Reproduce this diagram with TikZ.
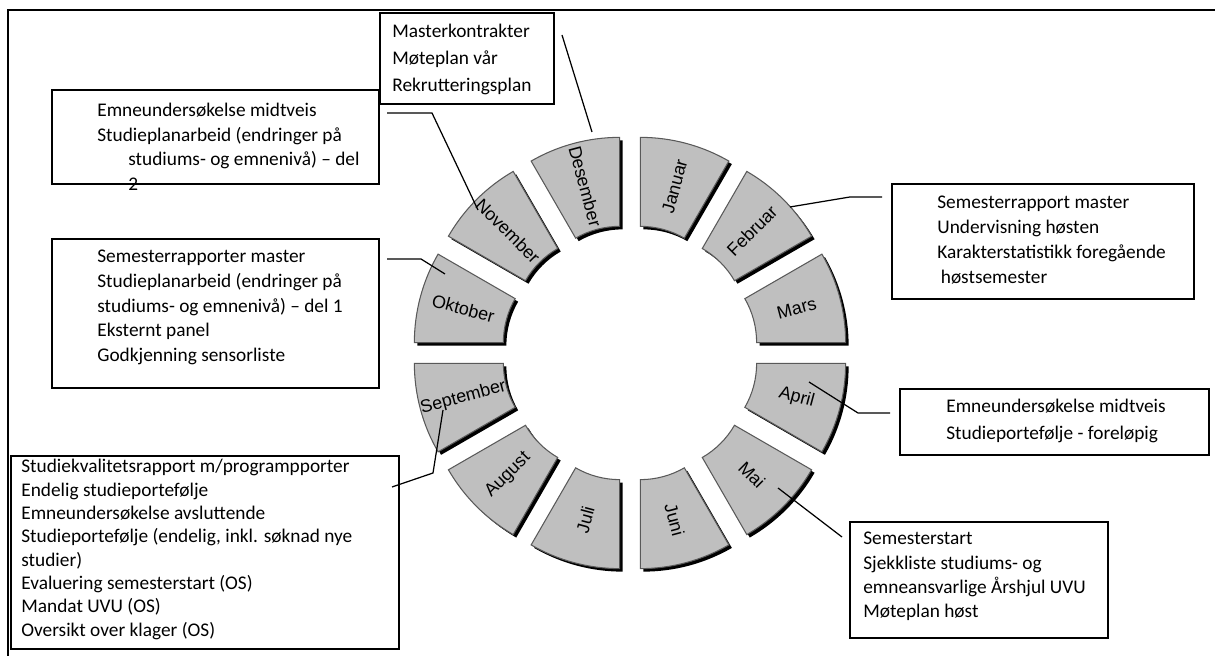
\documentclass[tikz,border=0pt]{standalone}
\usepackage{fontspec}
\setmainfont{Carlito}
\newfontfamily\monthfont{Liberation Sans}
\usetikzlibrary{calc}
\tikzset{
  box/.style={draw, line width=0.9pt, inner sep=0pt, anchor=north west},
  boxtext/.style={inner sep=0pt, anchor=north west, align=left},
  seg/.style={fill=black!25, draw=black!65, line width=0.6pt},
  segshadow/.style={fill=black},
  month/.style={font=\monthfont\fontsize{10.2}{12}\selectfont, inner sep=0pt},
  link/.style={line width=0.7pt}
}
\begin{document}
\begin{tikzpicture}[x=0.02cm, y=0.02cm]
\useasboundingbox (0,0) rectangle (1215,656);
\draw[line width=1.2pt] (8,0) -- (8,646) -- (1215,646);

% the wheel, one block per month
\foreach \a/\m in {75/Januar, 45/Februar, 15/Mars, -15/April, -45/Mai, -75/Juni,
                   -105/Juli, -135/August, -165/September, 165/Oktober, 135/November, 105/Desember}{
  \pgfmathsetmacro{\rot}{ifthenelse(abs(\a)>90, \a+180, \a)}
  \begin{scope}[shift={(630,303)}, shift={(\a:40)}]
    \fill[segshadow, shift={(3,-3)}] (\a-15:88) -- (\a-15:177)
      arc[start angle=\a-15, end angle=\a+15, radius=177] -- (\a+15:88)
      arc[start angle=\a+15, end angle=\a-15, radius=88] -- cycle;
    \draw[seg] (\a-15:88) -- (\a-15:177)
      arc[start angle=\a-15, end angle=\a+15, radius=177] -- (\a+15:88)
      arc[start angle=\a+15, end angle=\a-15, radius=88] -- cycle;
    \node[month, rotate=\rot] (\m) at (\a:132.5) {\m};
  \end{scope}
}

% boxes
\node[box, minimum width=174*0.02cm, minimum height=91*0.02cm] (desbox) at (379,644) {};
\node[box, minimum width=327*0.02cm, minimum height=94*0.02cm] (novbox) at (51,567) {};
\node[box, minimum width=327*0.02cm, minimum height=149*0.02cm] (oktbox) at (51,418) {};
\node[box, minimum width=388*0.02cm, minimum height=193*0.02cm] (sepbox) at (10,201) {};
\node[box, minimum width=302*0.02cm, minimum height=115*0.02cm] (febbox) at (891,473) {};
\node[box, minimum width=309*0.02cm, minimum height=66*0.02cm] (aprbox) at (899,268) {};
\node[box, minimum width=258*0.02cm, minimum height=116*0.02cm] (maibox) at (849,135) {};

% texts
\node[boxtext, font=\fontsize{11}{15.4}\selectfont] (destext) at (392,632)
  {Masterkontrakter\\Møteplan vår\\Rekrutteringsplan};
\node[boxtext, font=\fontsize{11}{13.9}\selectfont] (novtext) at (97,553)
  {Emneundersøkelse midtveis\\Studieplanarbeid (endringer på\\
   \hspace*{0.62cm}studiums- og emnenivå) – del\\\hspace*{0.62cm}2};
\node[boxtext, font=\fontsize{11}{14}\selectfont] (okttext) at (97,406)
  {Semesterrapporter master\\Studieplanarbeid (endringer på\\studiums- og emnenivå) – del 1\\
   Eksternt panel\\Godkjenning sensorliste};
\node[boxtext, font=\fontsize{11}{13.3}\selectfont] (septext) at (21,197)
  {Studiekvalitetsrapport m/programpporter\\Endelig studieportefølje\\Emneundersøkelse avsluttende\\
   Studieportefølje (endelig, inkl. søknad nye\\studier)\\Evaluering semesterstart (OS)\\
   Mandat UVU (OS)\\Oversikt over klager (OS)};
\node[boxtext, font=\fontsize{11}{14.2}\selectfont] (febtext) at (937,460)
  {Semesterrapport master\\Undervisning høsten\\Karakterstatistikk foregående\\\hspace*{2pt}høstsemester};
\node[boxtext, font=\fontsize{11}{15.4}\selectfont] (aprtext) at (946,257)
  {Emneundersøkelse midtveis\\Studieportefølje - foreløpig};
\node[boxtext, font=\fontsize{11}{13.8}\selectfont] (maitext) at (863,124)
  {Semesterstart\\Sjekkliste studiums- og\\emneansvarlige Årshjul UVU\\Møteplan høst};

% connectors
\coordinate (d1) at (562,621); \coordinate (d2) at (592,524);
\draw[link] (d1) -- (d2);
\coordinate (n1) at (387,543); \coordinate (n2) at (432,543); \coordinate (n3) at (478,446);
\draw[link] (n1) -- (n2) -- (n3);
\coordinate (o1) at (387,397); \coordinate (o2) at (421,397); \coordinate (o3) at (445,382);
\draw[link] (o1) -- (o2) -- (o3);
\coordinate (s1) at (443,246); \coordinate (s2) at (433,183); \coordinate (s3) at (392,169);
\draw[link] (s1) -- (s2) -- (s3);
\coordinate (f1) at (790,449); \coordinate (f2) at (850,459); \coordinate (f3) at (882,459);
\draw[link] (f1) -- (f2) -- (f3);
\coordinate (a1) at (809,274); \coordinate (a2) at (858,243); \coordinate (a3) at (890,243);
\draw[link] (a1) -- (a2) -- (a3);
\coordinate (m1) at (778,168); \coordinate (m2) at (842,119);
\draw[link] (m1) -- (m2);
\end{tikzpicture}
\end{document}
